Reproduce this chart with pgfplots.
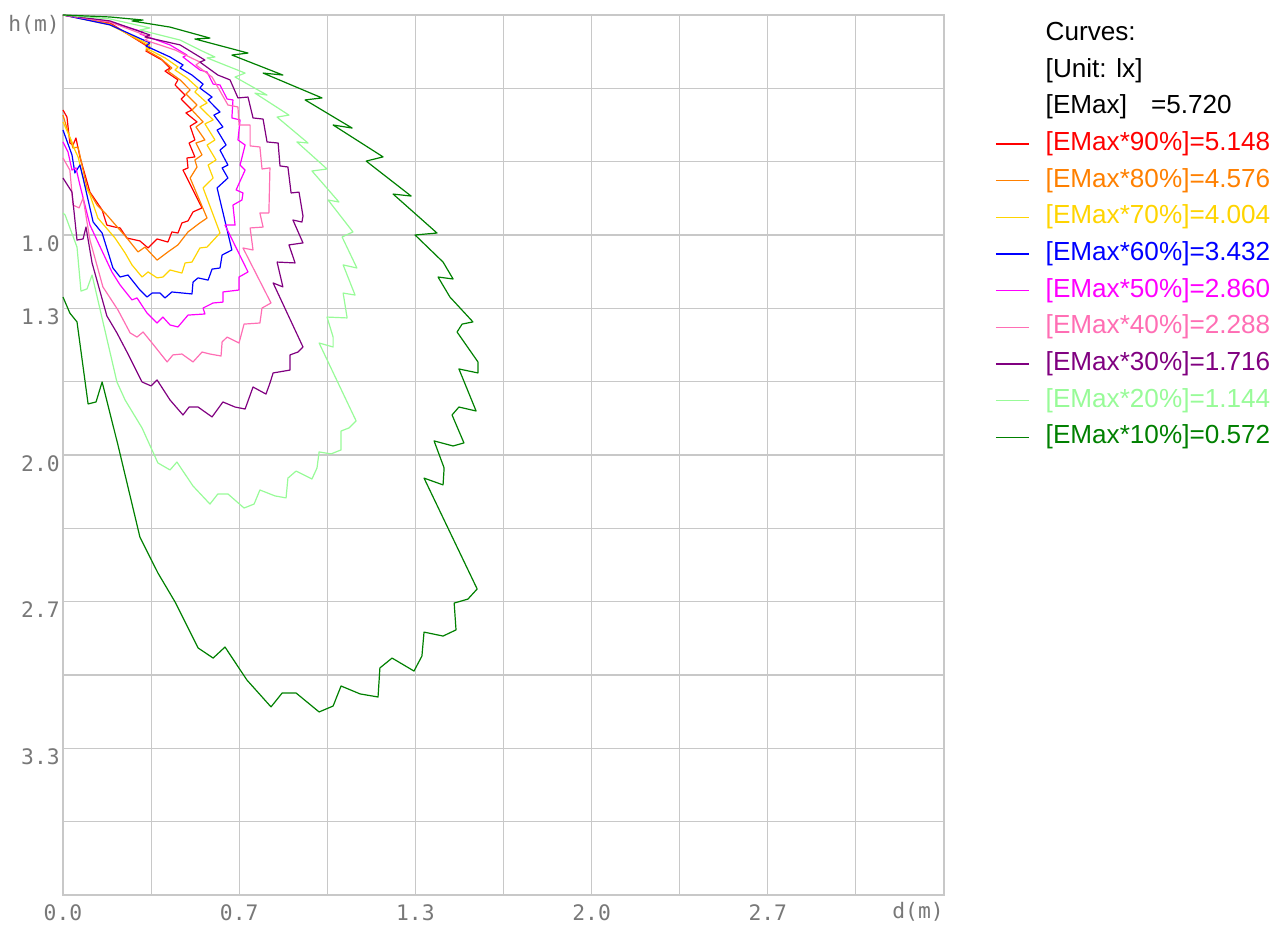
\documentclass[border=0pt]{standalone}
\usepackage{fontspec}
\setmainfont{Liberation Sans}
\newfontfamily\tickfont{DejaVu Sans Mono}
\usepackage{pgfplots}
\pgfplotsset{compat=1.18}
\definecolor{gridgray}{RGB}{200,200,200}
\definecolor{ticktxt}{RGB}{120,120,120}
\definecolor{c90}{RGB}{255,0,0}
\definecolor{c80}{RGB}{255,128,0}
\definecolor{c70}{RGB}{255,212,0}
\definecolor{c60}{RGB}{0,0,255}
\definecolor{c50}{RGB}{255,0,255}
\definecolor{c40}{RGB}{255,110,180}
\definecolor{c30}{RGB}{128,0,128}
\definecolor{c20}{RGB}{152,251,152}
\definecolor{c10}{RGB}{0,128,0}

\begin{document}
\begin{tikzpicture}
\begin{axis}[
    scale only axis,
    width=660.75pt, height=660pt,
    xmin=0, xmax=3.33333, ymin=0, ymax=4,
    y dir=reverse,
    clip=false,
    xtick={0,0.33333,0.66667,1,1.33333,1.66667,2,2.33333,2.66667,3,3.33333},
    xticklabels={0.0,,0.7,,1.3,,2.0,,2.7,,},
    ytick={0,0.33333,0.66667,1,1.33333,1.66667,2,2.33333,2.66667,3,3.33333,3.66667,4},
    yticklabels={h(m),,,1.0,1.3,,2.0,,2.7,,3.3,,},
    major tick length=0pt,
    grid=major,
    grid style={gridgray, line width=0.8pt},
    axis line style={gridgray, line width=0.8pt},
    xticklabel style={font=\tickfont\fontsize{16pt}{19pt}\selectfont, text=ticktxt, anchor=north, inner sep=0pt, yshift=-6.75pt},
    yticklabel style={font=\tickfont\fontsize{16pt}{19pt}\selectfont, text=ticktxt, anchor=north east, inner sep=0pt, xshift=-2.25pt, yshift=0pt},
    every axis plot/.append style={line width=0.9pt, line join=round},
    legend cell align=left,
    legend image code/.code={\draw[#1] (0pt,0pt) -- (25pt,0pt);},
    legend style={draw=none, fill=none, inner sep=0pt,
        at={(axis cs:3.526,0.0245)}, anchor=north west,
        font=\fontsize{19.6pt}{23pt}\selectfont,
        row sep=7.5pt, column sep=12pt,
        nodes={inner sep=0pt, text height=15pt, text depth=5pt}},
]
\addlegendimage{empty legend}
\addlegendentry{Curves:}
\addlegendimage{empty legend}
\addlegendentry{[Unit: lx]}
\addlegendimage{empty legend}
\addlegendentry{[EMax]\hspace*{18pt}=5.720}

% 90%
\addplot[c90] coordinates {
(0,0) (0.178,0.036) (0.329,0.150) (0.314,0.164) (0.375,0.205) (0.405,0.241) (0.386,0.255)
(0.435,0.295) (0.424,0.318) (0.462,0.364) (0.447,0.382) (0.488,0.432) (0.465,0.445)
(0.507,0.486) (0.481,0.505) (0.499,0.568) (0.477,0.582) (0.499,0.645) (0.469,0.650)
(0.473,0.695) (0.454,0.705) (0.526,0.877) (0.492,0.895) (0.473,0.936) (0.450,0.945)
(0.435,0.991) (0.412,0.986) (0.397,1.032) (0.356,1.018) (0.322,1.059) (0.291,1.027)
(0.242,1.014) (0.216,0.968) (0.197,0.964) (0.166,0.955) (0.148,0.886) (0.102,0.805)
(0.064,0.645) (0.049,0.559) (0.038,0.591) (0.026,0.582) (0.015,0.464) (0,0.432)};
\addlegendentry{\textcolor{c90}{[EMax*90\%]=5.148}}

% 80%
\addplot[c80] coordinates {
(0,0) (0.178,0.041) (0.329,0.145) (0.314,0.159) (0.367,0.195) (0.412,0.241) (0.397,0.255)
(0.443,0.295) (0.481,0.341) (0.465,0.359) (0.507,0.409) (0.488,0.432) (0.530,0.486)
(0.503,0.509) (0.537,0.568) (0.503,0.582) (0.526,0.636) (0.499,0.659) (0.507,0.691)
(0.481,0.741) (0.545,0.923) (0.518,0.945) (0.507,0.955) (0.473,0.986) (0.435,1.045)
(0.397,1.077) (0.356,1.114) (0.310,1.055) (0.284,1.077) (0.242,1.014) (0.189,0.941)
(0.166,0.909) (0.129,0.864) (0.091,0.786) (0.057,0.600) (0.038,0.605) (0.026,0.559) (0,0.455)};
\addlegendentry{\textcolor{c80}{[EMax*80\%]=4.576}}

% 70%
\addplot[c70] coordinates {
(0,0) (0.178,0.045) (0.329,0.136) (0.314,0.150) (0.386,0.195) (0.435,0.236) (0.424,0.250)
(0.469,0.286) (0.511,0.332) (0.499,0.350) (0.545,0.400) (0.518,0.418) (0.568,0.477)
(0.537,0.495) (0.575,0.568) (0.545,0.591) (0.579,0.659) (0.549,0.682) (0.568,0.741)
(0.530,0.786) (0.594,0.991) (0.545,1.055) (0.518,1.059) (0.488,1.123) (0.462,1.127)
(0.450,1.173) (0.405,1.159) (0.378,1.191) (0.356,1.195) (0.322,1.168) (0.299,1.191)
(0.261,1.136) (0.235,1.082) (0.197,1.014) (0.132,0.923) (0.102,0.818) (0.083,0.773)
(0.057,0.645) (0.045,0.614) (0.034,0.577) (0,0.486)};
\addlegendentry{\textcolor{c70}{[EMax*70\%]=4.004}}

% 60%
\addplot[c60] coordinates {
(0,0) (0.178,0.045) (0.329,0.127) (0.314,0.141) (0.405,0.191) (0.454,0.227) (0.443,0.241)
(0.488,0.273) (0.530,0.314) (0.518,0.332) (0.564,0.373) (0.549,0.386) (0.594,0.441)
(0.571,0.455) (0.605,0.509) (0.583,0.523) (0.617,0.591) (0.594,0.614) (0.624,0.682)
(0.602,0.695) (0.624,0.741) (0.583,0.786) (0.639,1.068) (0.602,1.091) (0.594,1.150)
(0.564,1.155) (0.549,1.205) (0.511,1.195) (0.492,1.214) (0.488,1.268) (0.412,1.259)
(0.386,1.286) (0.367,1.264) (0.337,1.264) (0.318,1.282) (0.291,1.250) (0.246,1.182)
(0.216,1.191) (0.189,1.150) (0.148,0.991) (0.114,0.941) (0.076,0.741) (0.064,0.682)
(0.045,0.718) (0.034,0.636) (0,0.523)};
\addlegendentry{\textcolor{c60}{[EMax*60\%]=3.432}}

% 50%
\addplot[c50] coordinates {
(0,0) (0.178,0.032) (0.303,0.077) (0.291,0.086) (0.405,0.136) (0.469,0.182) (0.454,0.191)
(0.518,0.250) (0.545,0.259) (0.568,0.314) (0.594,0.318) (0.621,0.382) (0.643,0.386)
(0.639,0.468) (0.670,0.477) (0.662,0.568) (0.689,0.591) (0.670,0.682) (0.689,0.705)
(0.655,0.795) (0.681,0.809) (0.677,0.841) (0.643,0.864) (0.651,0.955) (0.613,0.955)
(0.700,1.168) (0.666,1.191) (0.666,1.250) (0.605,1.259) (0.605,1.305) (0.568,1.309)
(0.530,1.332) (0.537,1.359) (0.473,1.364) (0.435,1.418) (0.405,1.409) (0.378,1.373)
(0.356,1.400) (0.318,1.355) (0.280,1.286) (0.261,1.295) (0.216,1.227) (0.185,1.168)
(0.102,0.955) (0.064,0.773) (0.049,0.695) (0.034,0.705) (0.019,0.623) (0,0.577)};
\addlegendentry{\textcolor{c50}{[EMax*50\%]=2.860}}

% 40%
\addplot[c40] coordinates {
(0,0) (0.178,0.032) (0.329,0.100) (0.310,0.114) (0.424,0.159) (0.518,0.214) (0.503,0.227)
(0.564,0.282) (0.624,0.409) (0.662,0.418) (0.666,0.500) (0.708,0.500) (0.708,0.595)
(0.745,0.600) (0.753,0.700) (0.783,0.695) (0.779,0.900) (0.745,0.900) (0.757,0.964)
(0.708,0.968) (0.719,1.068) (0.681,1.059) (0.787,1.309) (0.753,1.332) (0.745,1.400)
(0.685,1.405) (0.666,1.491) (0.621,1.464) (0.602,1.486) (0.598,1.550) (0.556,1.541)
(0.526,1.532) (0.492,1.577) (0.450,1.541) (0.416,1.545) (0.394,1.577) (0.337,1.491)
(0.303,1.441) (0.280,1.464) (0.254,1.445) (0.208,1.341) (0.151,1.236) (0.102,1.023)
(0.076,0.832) (0.061,0.877) (0.038,0.864) (0.026,0.705) (0,0.650)};
\addlegendentry{\textcolor{c40}{[EMax*40\%]=2.288}}

% 30%
\addplot[c30] coordinates {
(0,0) (0.178,0.027) (0.329,0.091) (0.310,0.100) (0.443,0.136) (0.537,0.205) (0.518,0.214)
(0.586,0.273) (0.632,0.295) (0.662,0.377) (0.700,0.373) (0.719,0.468) (0.757,0.473)
(0.772,0.577) (0.814,0.582) (0.821,0.686) (0.851,0.691) (0.863,0.809) (0.893,0.805)
(0.908,0.914) (0.904,0.941) (0.870,0.932) (0.908,1.036) (0.855,1.045) (0.878,1.127)
(0.810,1.123) (0.832,1.236) (0.795,1.218) (0.908,1.509) (0.889,1.532) (0.859,1.545)
(0.859,1.614) (0.795,1.627) (0.783,1.673) (0.768,1.723) (0.719,1.691) (0.689,1.791)
(0.651,1.782) (0.605,1.759) (0.564,1.827) (0.511,1.782) (0.477,1.782) (0.454,1.818)
(0.405,1.750) (0.356,1.659) (0.333,1.686) (0.299,1.668) (0.246,1.541) (0.204,1.445)
(0.166,1.368) (0.110,1.127) (0.087,0.964) (0.076,1.018) (0.053,1.023) (0.034,0.805) (0,0.741)};
\addlegendentry{\textcolor{c30}{[EMax*30\%]=1.716}}

% 20%
\addplot[c20] coordinates {
(0,0) (0.178,0.018) (0.329,0.059) (0.291,0.068) (0.443,0.114) (0.518,0.159) (0.575,0.191)
(0.545,0.195) (0.689,0.264) (0.651,0.282) (0.772,0.364) (0.726,0.355) (0.855,0.455)
(0.810,0.464) (0.927,0.582) (0.885,0.577) (0.999,0.700) (0.942,0.709) (1.044,0.850)
(1.003,0.841) (1.097,0.986) (1.056,1.009) (1.112,1.150) (1.060,1.136) (1.105,1.273)
(1.060,1.264) (1.075,1.377) (0.999,1.373) (1.022,1.464) (1.022,1.509) (0.969,1.491)
(1.109,1.845) (1.082,1.877) (1.052,1.891) (1.052,1.977) (1.014,1.995) (0.969,1.986)
(0.961,2.059) (0.942,2.109) (0.882,2.073) (0.851,2.105) (0.844,2.195) (0.802,2.186)
(0.745,2.159) (0.723,2.223) (0.685,2.241) (0.624,2.177) (0.586,2.177) (0.556,2.223)
(0.492,2.141) (0.431,2.032) (0.405,2.068) (0.359,2.036) (0.299,1.877) (0.235,1.750)
(0.204,1.668) (0.110,1.182) (0.091,1.245) (0.068,1.255) (0.053,1.055) (0.008,0.909) (0,0.900)};
\addlegendentry{\textcolor{c20}{[EMax*20\%]=1.144}}

% 10%
\addplot[c10] coordinates {
(0,0) (0.178,0.009) (0.303,0.023) (0.261,0.027) (0.405,0.055) (0.556,0.105) (0.499,0.109)
(0.700,0.173) (0.639,0.182) (0.832,0.273) (0.757,0.264) (0.980,0.377) (0.916,0.386)
(1.094,0.514) (1.022,0.500) (1.211,0.645) (1.147,0.664) (1.317,0.823) (1.249,0.814)
(1.415,0.991) (1.332,1.000) (1.438,1.123) (1.476,1.200) (1.419,1.191) (1.464,1.282)
(1.551,1.395) (1.510,1.405) (1.491,1.441) (1.570,1.577) (1.570,1.627) (1.498,1.609)
(1.563,1.800) (1.498,1.782) (1.472,1.818) (1.517,1.945) (1.476,1.959) (1.404,1.936)
(1.442,2.059) (1.438,2.136) (1.366,2.105) (1.567,2.609) (1.532,2.655) (1.480,2.673)
(1.487,2.795) (1.438,2.823) (1.366,2.805) (1.358,2.914) (1.328,2.982) (1.245,2.923)
(1.199,2.968) (1.192,3.100) (1.124,3.086) (1.052,3.050) (1.022,3.141) (0.969,3.168)
(0.882,3.082) (0.829,3.082) (0.787,3.145) (0.696,3.023) (0.613,2.873) (0.568,2.923)
(0.511,2.877) (0.424,2.668) (0.359,2.536) (0.291,2.373) (0.208,1.955) (0.148,1.668)
(0.125,1.759) (0.095,1.768) (0.053,1.395) (0.026,1.355) (0,1.282)};
\addlegendentry{\textcolor{c10}{[EMax*10\%]=0.572}}

\node[font=\tickfont\fontsize{16pt}{19pt}\selectfont, text=ticktxt, anchor=north east, inner sep=0pt, yshift=-5.5pt] at (axis cs:3.33333,4) {d(m)};
% page frame, 1278 x 926 px
\path (axis cs:-0.23837,-0.068182) rectangle (axis cs:4.59705,4.14091);
\end{axis}
\end{tikzpicture}
\end{document}
